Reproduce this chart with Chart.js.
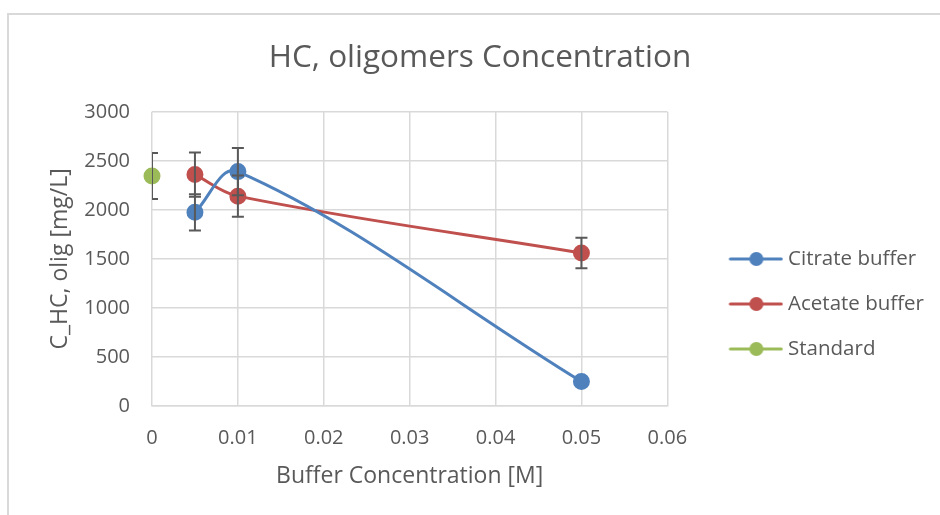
<!DOCTYPE html>
<html>
<head>
<meta charset="utf-8">
<script src="https://cdn.jsdelivr.net/npm/chart.js@4/dist/chart.umd.min.js"></script>
<style>
  html, body { margin: 0; padding: 0; background: #ffffff; }
  #wrap { position: absolute; left: 0; top: 0; width: 940px; height: 515px; }
</style>
</head>
<body>
<div id="wrap"><canvas id="c" width="940" height="515"></canvas></div>
<script>
// ---- data ----
const chartTitle = 'HC, oligomers Concentration';
const xTitle = 'Buffer Concentration [M]';
const yTitle = 'C_HC, olig [mg/L]';
const seriesNames = ['Citrate buffer', 'Acetate buffer', 'Standard'];
const seriesColors = ['#4F81BD', '#C0504D', '#9BBB59'];

const citrateX = [0.005, 0.01, 0.05];
const citrateY = [1975, 2390, 250];
const citrateErr = [185, 240, 0];

const acetateX = [0.005, 0.01, 0.05];
const acetateY = [2360, 2140, 1560];
const acetateErr = [225, 210, 155];

const standardX = [0];
const standardY = [2345];
const standardErr = [235];

const xTicks = [0, 0.01, 0.02, 0.03, 0.04, 0.05, 0.06];
const yTicks = [0, 500, 1000, 1500, 2000, 2500, 3000];

// ---- build ----
const FONT = "'Open Sans', 'Liberation Sans', sans-serif";
const TXT = '#595959';
const GRID = '#d9d9d9';
const PAD_L = 26;

function pts(xs, ys, es) { return xs.map((x, i) => ({ x: x, y: ys[i], e: es[i] })); }

const datasets = [
  { label: seriesNames[0], data: pts(citrateX, citrateY, citrateErr) },
  { label: seriesNames[1], data: pts(acetateX, acetateY, acetateErr) },
  { label: seriesNames[2], data: pts(standardX, standardY, standardErr) }
].map((d, i) => Object.assign(d, {
  borderColor: seriesColors[i],
  backgroundColor: seriesColors[i],
  pointBackgroundColor: seriesColors[i],
  pointBorderColor: seriesColors[i],
  pointRadius: 7,
  pointHoverRadius: 7,
  borderWidth: 3,
  showLine: true,
  tension: 0.35,
  clip: false
}));

// legend images: line with marker
const BOX_W = 86;
const IMG_W = 97;
function legendImg(color) {
  const cv = document.createElement('canvas');
  cv.width = IMG_W; cv.height = 16;
  const g = cv.getContext('2d');
  g.strokeStyle = color; g.lineWidth = 3; g.lineCap = 'round';
  g.beginPath(); g.moveTo(IMG_W - 53, 8); g.lineTo(IMG_W - 2, 8); g.stroke();
  g.fillStyle = color;
  g.beginPath(); g.arc(IMG_W - 27, 8, 7, 0, Math.PI * 2); g.fill();
  return cv;
}
const legendImgs = seriesColors.map(legendImg);

const errorBars = {
  id: 'errorBars',
  afterDatasetsDraw(chart) {
    const ctx = chart.ctx;
    const xs = chart.scales.x, ys = chart.scales.y;
    const a = chart.chartArea;
    ctx.save();
    ctx.beginPath();
    ctx.rect(a.left, a.top, a.right - a.left, a.bottom - a.top);
    ctx.clip();
    ctx.strokeStyle = '#595959';
    ctx.lineWidth = 2;
    chart.data.datasets.forEach(ds => {
      ds.data.forEach(p => {
        if (!p.e) return;
        const px = xs.getPixelForValue(p.x);
        const top = ys.getPixelForValue(p.y + p.e);
        const bot = ys.getPixelForValue(p.y - p.e);
        ctx.beginPath();
        ctx.moveTo(px, top); ctx.lineTo(px, bot);
        ctx.moveTo(px - 6, top); ctx.lineTo(px + 6, top);
        ctx.moveTo(px - 6, bot); ctx.lineTo(px + 6, bot);
        ctx.stroke();
      });
    });
    ctx.restore();
  }
};

const frame = {
  id: 'frame',
  beforeDraw(chart) {
    const ctx = chart.ctx;
    ctx.save();
    ctx.fillStyle = '#ffffff';
    ctx.fillRect(0, 0, chart.width, chart.height);
    ctx.strokeStyle = GRID;
    ctx.lineWidth = 2;
    ctx.strokeRect(8, 14, 1000, 600);
    ctx.restore();
  }
};

new Chart(document.getElementById('c'), {
  type: 'scatter',
  data: { datasets: datasets },
  plugins: [frame, errorBars],
  options: {
    responsive: false,
    animation: false,
    layout: { padding: { left: PAD_L, right: 6, top: 0, bottom: 0 } },
    plugins: {
      tooltip: { enabled: false },
      title: {
        display: true,
        text: chartTitle,
        color: TXT,
        font: { family: FONT, size: 31.5, weight: 'normal', lineHeight: 1.2 },
        padding: { top: 39, bottom: 35 }
      },
      legend: {
        display: true,
        position: 'right',
        maxWidth: 400,
        title: { display: true, text: ' ', font: { size: 12, lineHeight: 1.2 }, padding: { top: 0, bottom: 78.6 } },
        labels: {
          usePointStyle: true,
          pointStyleWidth: BOX_W,
          padding: 24.5,
          color: TXT,
          font: { family: FONT, size: 20.5 },
          generateLabels(chart) {
            const items = Chart.defaults.plugins.legend.labels.generateLabels(chart);
            items.forEach((it, i) => { it.pointStyle = legendImgs[i]; });
            return items;
          }
        }
      }
    },
    scales: {
      x: {
        type: 'linear',
        min: 0, max: 0.06,
        afterBuildTicks(s) { s.ticks = xTicks.map(v => ({ value: v })); },
        afterFit(s) { s.height = 109; },
        grid: { color: GRID, lineWidth: 1.5, drawTicks: false },
        border: { color: GRID, width: 1.5 },
        ticks: { color: TXT, font: { family: FONT, size: 20 }, padding: 20,
          callback: v => String(v) },
        title: { display: true, text: xTitle, color: TXT,
          font: { family: FONT, size: 23 }, padding: { top: 0, bottom: 25 } }
      },
      y: {
        type: 'linear',
        min: 0, max: 3000,
        afterBuildTicks(s) { s.ticks = yTicks.map(v => ({ value: v })); },
        afterFit(s) { s.width = 152 - PAD_L; },
        grid: { color: GRID, lineWidth: 1.5, drawTicks: false },
        border: { display: false },
        ticks: { color: TXT, font: { family: FONT, size: 20 }, padding: 22,
          callback: v => String(v) },
        title: { display: true, text: yTitle, color: TXT,
          font: { family: FONT, size: 23 }, padding: { top: 60 - PAD_L - 13.8, bottom: 0 } }
      }
    }
  }
});
</script>
</body>
</html>
